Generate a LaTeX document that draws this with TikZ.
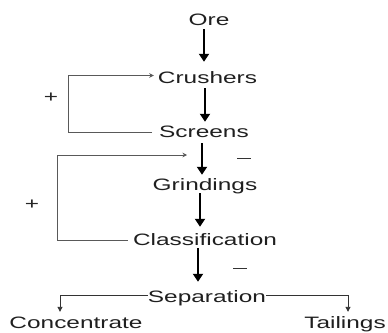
\documentclass[tikz,border=0pt]{standalone}
\usepackage{fontspec}
\setmainfont{Liberation Sans}
\usetikzlibrary{arrows.meta}
\tikzset{
  lbl/.style={font=\fontsize{16.5}{18}\selectfont, text=black!88, inner sep=0pt, text height=12pt, text depth=3pt, anchor=base},
  mainarrow/.style={draw=black, line width=1.8pt, -{Triangle[width=10pt,length=8pt]}},
  fbline/.style={draw=black!65, line width=0.9pt, -{Stealth[width=4.5pt,length=4.5pt]}},
  brline/.style={draw=black!80, line width=0.9pt, -{Triangle[width=5pt,length=5pt]}},
  sign/.style={font=\fontsize{16.5}{18}\selectfont, text=black!85, inner sep=0pt},
}
\newcommand{\widetxt}[1]{\scalebox{1.48}[1]{#1}}
\begin{document}
\begin{tikzpicture}[x=1pt,y=-1pt]
\useasboundingbox (0,0) rectangle (388,332);
% nodes
\node[lbl] (ore) at (209,25) {\widetxt{Ore}};
\node[lbl] (crushers) at (207.5,83) {\widetxt{Crushers}};
\node[lbl] (screens) at (204,137) {\widetxt{Screens}};
\node[lbl] (grindings) at (205,190) {\widetxt{Grindings}};
\node[lbl] (classification) at (205,245) {\widetxt{Classification}};
\node[lbl] (separation) at (207,302) {\widetxt{Separation}};
\node[lbl] (concentrate) at (76,328) {\widetxt{Concentrate}};
\node[lbl] (tailings) at (345,328) {\widetxt{Tailings}};
% signs
\node[sign] (p1) at (51,98) {\widetxt{+}};
\node[sign] (p2) at (32,205) {\widetxt{+}};
\draw[black!80, line width=1pt] (237,158) -- (251,158);
\draw[black!80, line width=1pt] (233,268) -- (247,268);
% column coordinates
\coordinate (c1) at (204,0);
\coordinate (c2) at (205,0);
\coordinate (c3) at (202,0);
\coordinate (c4) at (200,0);
\coordinate (c5) at (198,0);
\coordinate (l1) at (68,0);
\coordinate (l2) at (57,0);
\coordinate (fbend) at (187,155);
\coordinate (bl) at (60,0);
\coordinate (br) at (348,0);
% main arrows
\draw[mainarrow] ([yshift=-1pt]ore.south -| c1) -- ([yshift=9pt]crushers.north -| c1);
\draw[mainarrow] ([yshift=-2pt]crushers.south -| c2) -- ([yshift=3pt]screens.north -| c2);
\draw[mainarrow] ([yshift=-3pt]screens.south -| c3) -- ([yshift=3pt]grindings.north -| c3);
\draw[mainarrow] (grindings.south -| c4) -- ([yshift=6pt]classification.north -| c4);
\draw[mainarrow] (classification.south -| c5) -- ([yshift=8pt]separation.north -| c5);
% feedback loops
\draw[fbline] ([xshift=-7pt]screens.west) -- (screens.west -| l1) |- ([xshift=-4pt,yshift=3pt]crushers.west);
\draw[fbline] ([xshift=-5pt]classification.west) -- (classification.west -| l2) |- (fbend);
% branches
\draw[brline] ([yshift=2.5pt]separation.west) -| ([yshift=4pt]concentrate.north -| bl);
\draw[brline] ([yshift=2.5pt]separation.east) -| ([yshift=4pt]tailings.north -| br);
\end{tikzpicture}
\end{document}
